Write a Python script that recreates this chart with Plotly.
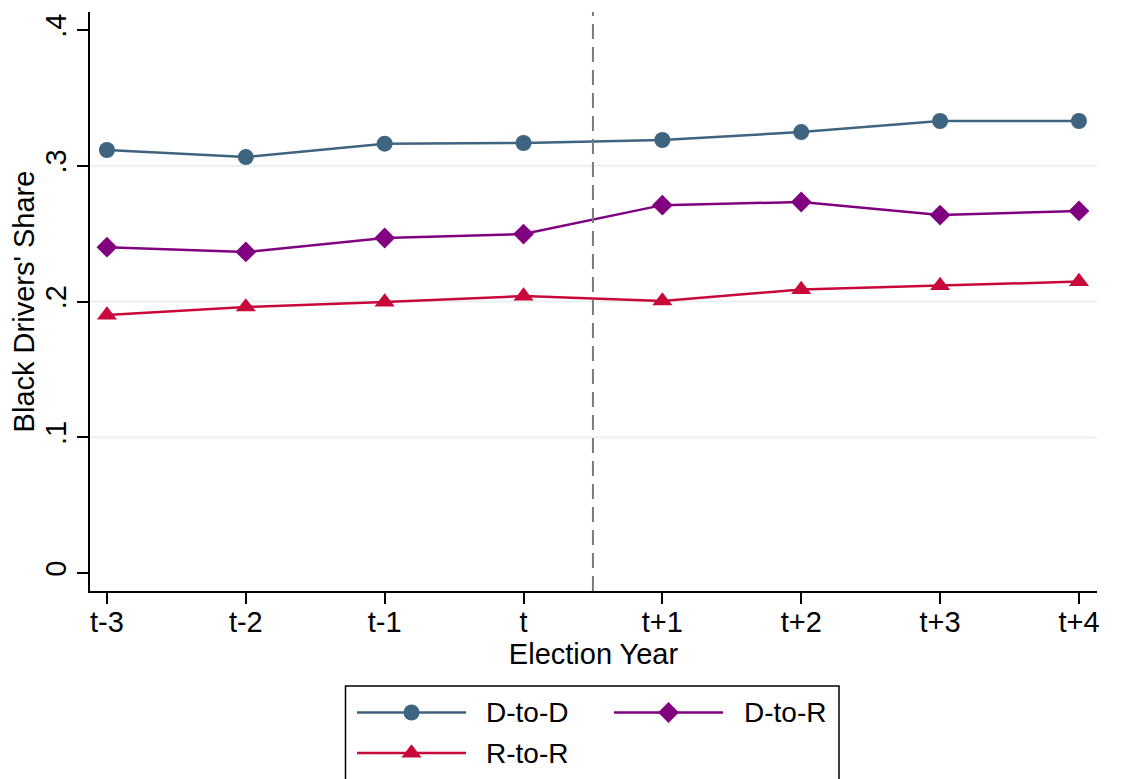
import plotly.graph_objects as go

categories = ["t-3", "t-2", "t-1", "t", "t+1", "t+2", "t+3", "t+4"]
x_idx = list(range(len(categories)))

d_to_d = [0.3116, 0.3064, 0.3163, 0.3168, 0.3190, 0.3248, 0.3330, 0.3330]
d_to_r = [0.2400, 0.2365, 0.2468, 0.2497, 0.2710, 0.2733, 0.2637, 0.2667]
r_to_r = [0.1900, 0.1960, 0.1996, 0.2040, 0.2004, 0.2088, 0.2117, 0.2147]

series_names = ["D-to-D", "D-to-R", "R-to-R"]
series_vals = [d_to_d, d_to_r, r_to_r]
colors = ["#3e647f", "#800080", "#c8073a"]
symbols = ["circle", "diamond", "triangle-up"]
msizes = [16, 16, 17.5]

y_ticks = [0, 0.1, 0.2, 0.3, 0.4]
y_ticktext = ["0", ".1", ".2", ".3", ".4"]
grid_vals = [0.1, 0.2, 0.3]
event_x = 3.5

FONT = "Liberation Sans, Arial, Helvetica, sans-serif"
FS = 29
PAGE_W, PAGE_H = 1128, 779
OFF = 8  # default page body margin
W, H = PAGE_W - OFF, PAGE_H - OFF
AX_LEFT, AX_RIGHT, AX_TOP, AX_BOTTOM = 90, 1097, 12, 591
L, R, T = AX_LEFT - OFF, PAGE_W - AX_RIGHT, AX_TOP - OFF
main_dom0 = (PAGE_H - AX_BOTTOM) / (PAGE_H - AX_TOP)

fig = go.Figure()
for name, vals, c, s, ms in zip(series_names, series_vals, colors, symbols, msizes):
    fig.add_trace(go.Scatter(
        x=x_idx, y=vals, mode="lines+markers", name=name,
        line=dict(color=c, width=2.5),
        marker=dict(symbol=s, size=ms, color=c),
        showlegend=False, xaxis="x", yaxis="y"))

# manual legend in page pixel coordinates (axes x2/y2)
leg_rows = [(712.5, 357, 466, 411.5, 484), (712.5, 614, 723, 668.5, 742), (753, 357, 466, 411.5, 484)]
for (ly, lx0, lx1, mx, tx), name, c, s, ms in zip(leg_rows, series_names, colors, symbols, msizes):
    fig.add_trace(go.Scatter(x=[lx0, lx1], y=[ly, ly], mode="lines",
                             line=dict(color=c, width=2.5), showlegend=False,
                             xaxis="x2", yaxis="y2", hoverinfo="skip"))
    fig.add_trace(go.Scatter(x=[mx], y=[ly], mode="markers",
                             marker=dict(symbol=s, size=ms, color=c), showlegend=False,
                             xaxis="x2", yaxis="y2", hoverinfo="skip"))
    fig.add_annotation(x=tx, y=ly, xref="x2", yref="y2", text=name, showarrow=False,
                       xanchor="left", yanchor="middle",
                       font=dict(family=FONT, size=28, color="black"))

shapes = []
for g in grid_vals:
    shapes.append(dict(type="line", xref="x domain", yref="y", x0=0, x1=1, y0=g, y1=g,
                       line=dict(color="#e8f0f2", width=2), layer="below"))
shapes.append(dict(type="line", xref="x", yref="y domain", x0=event_x, x1=event_x, y0=0, y1=1,
                   line=dict(color="#7a7a7a", width=2, dash="15px,8px"), layer="above"))
shapes.append(dict(type="rect", xref="x2", yref="y2", x0=345.5, x1=839, y0=686, y1=800,
                   line=dict(color="black", width=1.5), fillcolor="rgba(0,0,0,0)"))

fig.update_layout(
    width=W, height=H,
    margin=dict(l=L, r=R, t=T, b=0, autoexpand=False),
    paper_bgcolor="white", plot_bgcolor="white",
    font=dict(family=FONT, size=FS, color="black"),
    shapes=shapes,
    xaxis=dict(domain=[0, 1], anchor="y", range=[-0.122, 7.13],
               tickvals=x_idx, ticktext=categories, ticks="outside", ticklen=11,
               tickwidth=1.5, tickcolor="black", showline=True, linecolor="black",
               linewidth=1.5, showgrid=False, zeroline=False, ticklabelstandoff=-7,
               title=dict(text="Election Year", standoff=2, font=dict(size=FS)),
               automargin=False, tickfont=dict(size=FS)),
    yaxis=dict(domain=[main_dom0, 1], anchor="x", range=[-0.0133, 0.4133],
               tickvals=y_ticks, ticktext=y_ticktext, ticks="outside", ticklen=11,
               tickwidth=1.5, tickcolor="black", showline=True, linecolor="black",
               linewidth=1.5, showgrid=False, zeroline=False, tickangle=-90,
               title=dict(text="Black Drivers' Share", standoff=6, font=dict(size=FS)),
               automargin=False, tickfont=dict(size=FS)),
    xaxis2=dict(domain=[0, 1], anchor="y2", range=[AX_LEFT, AX_RIGHT], visible=False, fixedrange=True),
    yaxis2=dict(domain=[0, main_dom0], anchor="x2", range=[PAGE_H, AX_BOTTOM], visible=False, fixedrange=True),
)

fig.write_html("out.html")
